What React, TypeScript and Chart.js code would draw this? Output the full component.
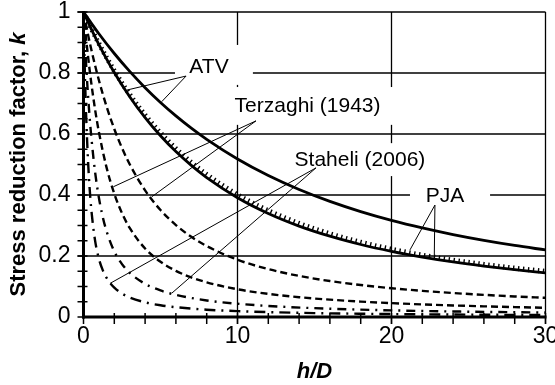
import { useEffect, useRef } from 'react';
import { Chart, registerables } from 'chart.js';

Chart.register(...registerables);

// ---- data (h/D, k) ----
const atvUpperH = [0, 1, 2, 3, 4, 5, 6, 7, 8, 10, 12, 14, 16, 18, 20, 22, 24, 26, 28, 30];
const atvUpperK = [1, 0.9286, 0.8639, 0.8053, 0.752, 0.7035, 0.6594, 0.6191, 0.5823, 0.5179, 0.4637, 0.4179, 0.3789, 0.3455, 0.3167, 0.2919, 0.2702, 0.2512, 0.2345, 0.2198];

const atvLowerH = [0, 0.5, 1, 2, 3, 4, 5, 6, 7, 8, 10, 12, 14, 16, 18, 20, 22, 24, 26, 28, 30];
const atvLowerK = [1, 0.9446, 0.8933, 0.8016, 0.7223, 0.6538, 0.5942, 0.5423, 0.497, 0.4572, 0.3912, 0.3394, 0.2981, 0.2649, 0.2377, 0.2152, 0.1964, 0.1804, 0.1668, 0.155, 0.1448];

const pjaH = [0, 0.5, 1, 2, 3, 4, 5, 6, 7, 8, 10, 12, 14, 16, 18, 20, 22, 24, 26, 28, 30];
const pjaK = [1, 0.9464, 0.8966, 0.8072, 0.7296, 0.6622, 0.6034, 0.552, 0.5068, 0.4671, 0.4009, 0.3487, 0.3069, 0.273, 0.2452, 0.2222, 0.2028, 0.1864, 0.1724, 0.1602, 0.1497];

const terzaghiAH = [0, 0.25, 0.5, 1, 1.5, 2, 2.5, 3, 4, 5, 6, 7, 8, 10, 12, 14, 16, 18, 20, 22, 24, 26, 28, 30];
const terzaghiAK = [1, 0.9365, 0.8785, 0.7762, 0.6898, 0.6165, 0.5541, 0.5007, 0.4151, 0.3507, 0.3014, 0.2629, 0.2325, 0.1877, 0.157, 0.1347, 0.1179, 0.1048, 0.0943, 0.0858, 0.0786, 0.0726, 0.0674, 0.0629];

const terzaghiBH = [0, 0.1, 0.2, 0.3, 0.5, 0.75, 1, 1.5, 2, 2.5, 3, 4, 5, 6, 7, 8, 10, 12, 14, 16, 18, 20, 22, 24, 26, 28, 30];
const terzaghiBK = [1, 0.947, 0.8976, 0.8518, 0.7692, 0.6809, 0.6065, 0.4897, 0.4042, 0.3404, 0.2919, 0.2245, 0.1811, 0.1513, 0.1298, 0.1136, 0.0909, 0.0758, 0.0649, 0.0568, 0.0505, 0.0455, 0.0413, 0.0379, 0.035, 0.0325, 0.0303];

const staheliAH = [0, 0.05, 0.1, 0.2, 0.3, 0.4, 0.5, 0.75, 1, 1.25, 1.5, 2, 2.5, 3, 4, 5, 6, 8, 10, 12, 15, 20, 25, 30];
const staheliAK = [1, 0.9446, 0.8933, 0.8016, 0.7223, 0.6538, 0.5942, 0.4764, 0.3912, 0.3282, 0.2807, 0.2152, 0.1734, 0.1448, 0.1087, 0.087, 0.0725, 0.0543, 0.0435, 0.0362, 0.029, 0.0217, 0.0174, 0.0145];

const staheliBH = [0, 0.02, 0.05, 0.1, 0.15, 0.2, 0.3, 0.4, 0.5, 0.75, 1, 1.25, 1.5, 2, 2.5, 3, 4, 5, 6, 8, 10, 12, 15, 20, 25, 30];
const staheliBK = [1, 0.9498, 0.8806, 0.7798, 0.6943, 0.6217, 0.5063, 0.4207, 0.3561, 0.2512, 0.1912, 0.1536, 0.1281, 0.0962, 0.0769, 0.0641, 0.0481, 0.0385, 0.0321, 0.024, 0.0192, 0.016, 0.0128, 0.0096, 0.0077, 0.0064];

// ---- axes ----
const xTicks = [0, 10, 20, 30];
const yTicks = [0, 0.2, 0.4, 0.6, 0.8, 1];
const xMinorTicks = [0, 2, 4, 6, 8, 10, 12, 14, 16, 18, 20, 22, 24, 26, 28, 30];
const yMinorTicks = [0, 0.05, 0.1, 0.15, 0.2, 0.25, 0.3, 0.35, 0.4, 0.45, 0.5, 0.55, 0.6, 0.65, 0.7, 0.75, 0.8, 0.85, 0.9, 0.95, 1];
const xTitle = 'h/D';
const yTitleMain = 'Stress reduction factor, ';
const yTitleItalic = 'k';

// ---- annotations (data coordinates) ----
const labelTexts = ['ATV', 'Terzaghi (1943)', 'Staheli (2006)', 'PJA'];
const labelCenters = [[8.15, 0.818], [14.55, 0.692], [17.95, 0.515], [23.47, 0.395]];
const labelBoxes = [[5.94, 0.892, 11.0, 0.761], [9.19, 0.754, 20.42, 0.63], [13.08, 0.57, 23.15, 0.462], [21.2, 0.439, 26.4, 0.351]];
const leaderStarts = [[6.66, 0.79], [11.2, 0.643], [15.1, 0.489], [22.82, 0.367]];
const leaderEnds = [
  [[2.81, 0.744], [5.08, 0.706]],
  [[1.94, 0.427], [4.43, 0.394]],
  [[1.72, 0.11], [5.73, 0.078]],
  [[21.2, 0.22], [22.78, 0.203]],
];

const FONT = '"Liberation Sans", Arial, sans-serif';

const zip = (hs: number[], ks: number[]) => hs.map((h, i) => ({ x: h, y: ks[i] }));

const decor = {
  id: 'decor',
  beforeDatasetsDraw(chart: any) {
    const { ctx, chartArea: a, scales } = chart;
    const x = scales.x;
    const y = scales.y;
    const line = (x1: number, y1: number, x2: number, y2: number) => {
      ctx.beginPath();
      ctx.moveTo(x1, y1);
      ctx.lineTo(x2, y2);
      ctx.stroke();
    };
    ctx.save();
    ctx.strokeStyle = '#000';
    ctx.lineWidth = 1.3;
    yTicks.forEach((v) => {
      if (v === 0) return;
      const py = y.getPixelForValue(v);
      line(a.left - 6, py, a.right, py);
    });
    xTicks.forEach((v) => {
      if (v === 0) return;
      const px = x.getPixelForValue(v);
      line(px, a.top, px, a.bottom + 7);
    });
    ctx.fillStyle = '#fff';
    labelBoxes.forEach(([h1, k1, h2, k2]) => {
      const x1 = x.getPixelForValue(h1);
      const x2 = x.getPixelForValue(h2);
      const y1 = y.getPixelForValue(k1);
      const y2 = y.getPixelForValue(k2);
      ctx.fillRect(x1, y1, x2 - x1, y2 - y1);
    });
    ctx.lineWidth = 1.5;
    yMinorTicks.forEach((v) => {
      const py = y.getPixelForValue(v);
      line(a.left - 6, py, a.left + 4, py);
    });
    xMinorTicks.forEach((v) => {
      const px = x.getPixelForValue(v);
      line(px, a.bottom - 4, px, a.bottom + 7);
    });
    ctx.lineWidth = 3;
    line(a.left, a.top - 1, a.left, a.bottom + 1.5);
    line(a.left - 1.5, a.bottom, a.right + 1, a.bottom);
    ctx.restore();
  },
  afterDatasetsDraw(chart: any) {
    const { ctx, chartArea: a, scales } = chart;
    const x = scales.x;
    const y = scales.y;
    ctx.save();
    ctx.strokeStyle = '#000';
    ctx.lineWidth = 1;
    leaderStarts.forEach(([h0, k0], i) => {
      leaderEnds[i].forEach(([h1, k1]) => {
        ctx.beginPath();
        ctx.moveTo(x.getPixelForValue(h0), y.getPixelForValue(k0));
        ctx.lineTo(x.getPixelForValue(h1), y.getPixelForValue(k1));
        ctx.stroke();
      });
    });
    ctx.fillStyle = '#000';
    ctx.font = `21px ${FONT}`;
    ctx.textAlign = 'center';
    ctx.textBaseline = 'middle';
    labelTexts.forEach((t, i) => {
      const [h, k] = labelCenters[i];
      ctx.fillText(t, x.getPixelForValue(h), y.getPixelForValue(k));
    });
    // y-axis title with italic k
    const fMain = `bold 22px ${FONT}`;
    const fIt = `italic bold 22px ${FONT}`;
    ctx.font = fMain;
    const w1 = ctx.measureText(yTitleMain).width;
    ctx.font = fIt;
    const w2 = ctx.measureText(yTitleItalic).width;
    ctx.translate(19, (a.top + a.bottom) / 2);
    ctx.rotate(-Math.PI / 2);
    ctx.textAlign = 'left';
    ctx.font = fMain;
    ctx.fillText(yTitleMain, -(w1 + w2) / 2, 0);
    ctx.font = fIt;
    ctx.fillText(yTitleItalic, -(w1 + w2) / 2 + w1, 0);
    ctx.restore();
  },
};

export default function App() {
  const ref = useRef<HTMLCanvasElement>(null);
  useEffect(() => {
    const solid = { borderColor: '#000', pointRadius: 0, fill: false, cubicInterpolationMode: 'monotone' as const };
    const chart = new Chart(ref.current!, {
      type: 'line',
      data: {
        datasets: [
          { ...solid, data: zip(atvUpperH, atvUpperK), borderWidth: 2.8 },
          { ...solid, data: zip(atvLowerH, atvLowerK), borderWidth: 2.8 },
          { ...solid, data: zip(pjaH, pjaK), borderWidth: 5, borderDash: [1.4, 3.6], borderCapStyle: 'butt' },
          { ...solid, data: zip(terzaghiAH, terzaghiAK), borderWidth: 2.4, borderDash: [7, 4] },
          { ...solid, data: zip(terzaghiBH, terzaghiBK), borderWidth: 2.4, borderDash: [7, 4] },
          { ...solid, data: zip(staheliAH, staheliAK), borderWidth: 2.4, borderDash: [9, 6, 2, 6] },
          { ...solid, data: zip(staheliBH, staheliBK), borderWidth: 2.4, borderDash: [11, 6, 2, 6] },
        ] as any,
      },
      options: {
        responsive: false,
        animation: false,
        devicePixelRatio: 1,
        layout: { padding: { left: 0, right: 9.5, top: 12, bottom: 0 }, autoPadding: false } as any,
        plugins: { legend: { display: false }, tooltip: { enabled: false } },
        scales: {
          x: {
            type: 'linear',
            min: 0,
            max: 30,
            afterBuildTicks: (s: any) => {
              s.ticks = xTicks.map((v) => ({ value: v }));
            },
            grid: { display: false, drawTicks: false },
            border: { display: false },
            ticks: {
              font: { family: FONT, size: 23 },
              color: '#000',
              padding: 6,
              maxRotation: 0,
              autoSkip: false,
              callback: (v: any) => String(v),
            },
            title: {
              display: true,
              text: xTitle,
              color: '#000',
              font: { family: FONT, size: 22, weight: 'bold', style: 'italic' },
              padding: { top: 0, bottom: 0 },
            },
            afterFit: (s: any) => {
              s.height = 68;
              s.paddingLeft = 0;
              s.paddingRight = 0;
            },
          },
          y: {
            type: 'linear',
            min: 0,
            max: 1,
            afterBuildTicks: (s: any) => {
              s.ticks = yTicks.map((v) => ({ value: v }));
            },
            grid: { display: false, drawTicks: false },
            border: { display: false },
            ticks: {
              font: { family: FONT, size: 23 },
              color: '#000',
              padding: 13,
              callback: (v: any) => String(v),
            },
            afterFit: (s: any) => {
              s.width = 83.5;
              s.paddingTop = 0;
              s.paddingBottom = 0;
            },
          },
        },
      } as any,
      plugins: [decor],
    });
    return () => chart.destroy();
  }, []);
  return (
    <div style={{ position: 'fixed', left: 0, top: 0, width: 555, height: 385, background: '#fff' }}>
      <canvas ref={ref} width={555} height={385} style={{ display: 'block', width: 555, height: 385 }} />
    </div>
  );
}
